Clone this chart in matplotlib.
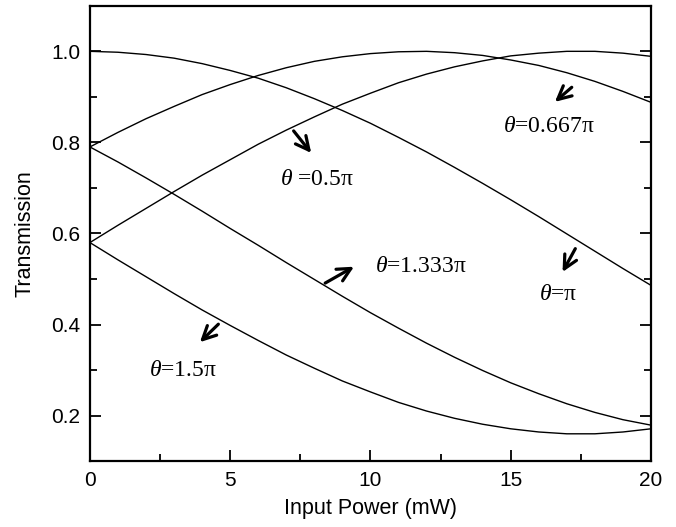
import matplotlib
matplotlib.use("Agg")
import matplotlib.pyplot as plt
from matplotlib.ticker import MultipleLocator

power = list(range(0, 21))
t_pi = [1.000, 0.998, 0.993, 0.985, 0.973, 0.958, 0.941, 0.920, 0.896, 0.870, 0.842,
        0.811, 0.779, 0.745, 0.710, 0.674, 0.637, 0.599, 0.561, 0.523, 0.486]
t_05pi = [0.790, 0.822, 0.852, 0.879, 0.905, 0.927, 0.947, 0.964, 0.978, 0.988, 0.995,
          0.999, 1.000, 0.997, 0.991, 0.981, 0.969, 0.953, 0.934, 0.912, 0.888]
t_0667pi = [0.580, 0.618, 0.655, 0.692, 0.728, 0.762, 0.796, 0.827, 0.856, 0.884, 0.908,
            0.931, 0.950, 0.966, 0.979, 0.990, 0.996, 1.000, 1.000, 0.996, 0.989]
t_1333pi = [0.790, 0.757, 0.722, 0.686, 0.649, 0.611, 0.574, 0.536, 0.499, 0.462, 0.426,
            0.392, 0.359, 0.328, 0.299, 0.272, 0.248, 0.226, 0.207, 0.191, 0.179]
t_15pi = [0.580, 0.542, 0.505, 0.468, 0.432, 0.398, 0.365, 0.333, 0.304, 0.276, 0.252,
          0.229, 0.210, 0.194, 0.181, 0.171, 0.164, 0.160, 0.160, 0.164, 0.171]

labels = [r"$\theta$ =0.5π", r"$\theta$=0.667π", r"$\theta$=1.333π", r"$\theta$=π", r"$\theta$=1.5π"]

plt.rcParams['mathtext.fontset'] = 'custom'
plt.rcParams['mathtext.it'] = 'Liberation Serif:italic'
plt.rcParams['mathtext.rm'] = 'Liberation Serif'

fig = plt.figure(figsize=(6.76, 5.27), dpi=100)
ax = fig.add_axes([0.133, 0.125, 0.830, 0.864])

for ys in [t_pi, t_05pi, t_0667pi, t_1333pi, t_15pi]:
    ax.plot(power, ys, color='black', lw=1.0)

ax.set_xlim(0, 20)
ax.set_ylim(0.1, 1.1)
ax.xaxis.set_major_locator(MultipleLocator(5))
ax.xaxis.set_minor_locator(MultipleLocator(2.5))
ax.yaxis.set_major_locator(MultipleLocator(0.2))
ax.yaxis.set_minor_locator(MultipleLocator(0.1))
ax.set_yticks([0.2, 0.4, 0.6, 0.8, 1.0])
ax.set_yticklabels(['0.2', '0.4', '0.6', '0.8', '1.0'])
ax.tick_params(which='major', direction='in', length=8, width=1.3, right=True, top=False,
               labelsize=15, pad=7)
ax.tick_params(which='minor', direction='in', length=5, width=1.3, right=True, top=False)
for lab in ax.get_xticklabels() + ax.get_yticklabels():
    lab.set_family('Liberation Sans')
for s in ax.spines.values():
    s.set_linewidth(1.6)

ax.set_xlabel('Input Power (mW)', fontsize=15.5, family='Liberation Sans', labelpad=6)
ax.set_ylabel('Transmission', fontsize=15.5, family='Liberation Sans', labelpad=11)

txt_kw = dict(fontsize=17, family='Liberation Serif', ha='center', va='center')
arrow_kw = dict(arrowstyle='->', lw=2.3, color='black', mutation_scale=24)

# theta = 0.5 pi
ax.annotate('', xy=(7.95, 0.772), xytext=(7.2, 0.83), arrowprops=arrow_kw)
ax.text(8.1, 0.719, labels[0], **txt_kw)
# theta = 0.667 pi
ax.annotate('', xy=(16.5, 0.885), xytext=(17.25, 0.925), arrowprops=arrow_kw)
ax.text(16.35, 0.834, labels[1], **txt_kw)
# theta = 1.333 pi
ax.annotate('', xy=(9.5, 0.53), xytext=(8.3, 0.488), arrowprops=arrow_kw)
ax.text(11.8, 0.527, labels[2], **txt_kw)
# theta = pi
ax.annotate('', xy=(16.8, 0.51), xytext=(17.35, 0.572), arrowprops=arrow_kw)
ax.text(16.7, 0.466, labels[3], **txt_kw)
# theta = 1.5 pi
ax.annotate('', xy=(3.85, 0.357), xytext=(4.65, 0.405), arrowprops=arrow_kw)
ax.text(3.32, 0.298, labels[4], **txt_kw)

fig.savefig('out.png', dpi=100)
